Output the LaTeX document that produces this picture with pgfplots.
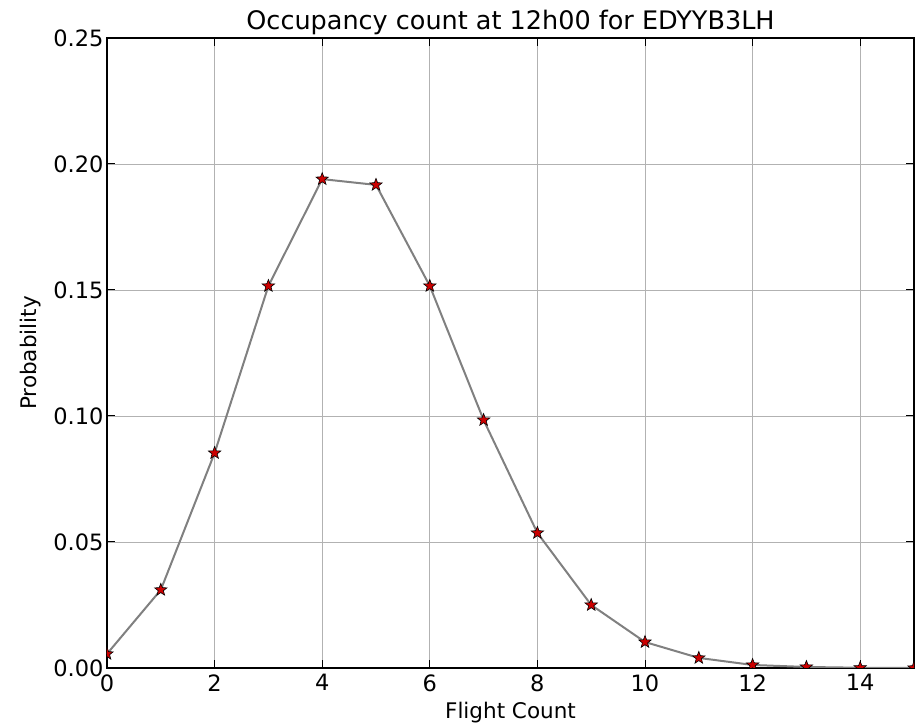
\documentclass[border=0pt]{standalone}
\usepackage{pgfplots}
\pgfplotsset{compat=1.18}
\usepackage{fontspec}
\setmainfont{DejaVu Sans}
\pgfdeclareplotmark{fstar}{%
  \pgfpathmoveto{\pgfqpointpolar{90}{\pgfplotmarksize}}%
  \pgfpathlineto{\pgfqpointpolar{126}{0.42\pgfplotmarksize}}%
  \pgfpathlineto{\pgfqpointpolar{162}{\pgfplotmarksize}}%
  \pgfpathlineto{\pgfqpointpolar{198}{0.42\pgfplotmarksize}}%
  \pgfpathlineto{\pgfqpointpolar{234}{\pgfplotmarksize}}%
  \pgfpathlineto{\pgfqpointpolar{270}{0.42\pgfplotmarksize}}%
  \pgfpathlineto{\pgfqpointpolar{306}{\pgfplotmarksize}}%
  \pgfpathlineto{\pgfqpointpolar{342}{0.42\pgfplotmarksize}}%
  \pgfpathlineto{\pgfqpointpolar{18}{\pgfplotmarksize}}%
  \pgfpathlineto{\pgfqpointpolar{54}{0.42\pgfplotmarksize}}%
  \pgfpathclose
  \pgfusepathqfillstroke
}
\begin{document}
\begin{tikzpicture}
\begin{axis}[
  name=ax,
  scale only axis,
  width=807pt, height=630pt,
  xmin=0, xmax=15, ymin=0, ymax=0.25,
  xtick={0,2,...,14},
  ytick={0,0.05,0.10,0.15,0.20,0.25},
  yticklabel style={/pgf/number format/.cd,fixed,fixed zerofill,precision=2},
  /pgf/number format/assume math mode=true,
  tick align=inside,
  tick pos=both,
  major tick length=8pt,
  axis line style={line width=1.2pt},
  tick style={black,line width=1pt},
  grid=major,
  grid style={gray!60,line width=0.9pt},
  tick label style={font=\fontsize{22.5}{26}\selectfont},
  xticklabel style={yshift=-3pt},
  label style={font=\fontsize{21.5}{26}\selectfont},
  title style={font=\fontsize{25.5}{30}\selectfont, yshift=-6pt},
  title={Occupancy count at 12h00 for EDYYB3LH},
  xlabel={Flight Count},
  ylabel={Probability},
  xlabel style={yshift=-4pt},
  ylabel style={yshift=6pt},
  clip=true,
  clip marker paths=true,
]
\addplot[color=gray, line width=2pt, mark=fstar, mark size=6.5pt,
  mark options={fill=red!80!black, draw=black, line width=0.6pt}]
coordinates {
(0,0.0056) (1,0.0310) (2,0.0853) (3,0.1516) (4,0.1940) (5,0.1917)
(6,0.1516) (7,0.0984) (8,0.0536) (9,0.0250) (10,0.0103) (11,0.0040)
(12,0.0012) (13,0.0004) (14,0.0001) (15,0.00003)
};
\end{axis}
\pgfresetboundingbox
\path[use as bounding box] ([xshift=-107pt,yshift=-58pt]ax.south west) rectangle ([xshift=2pt,yshift=38pt]ax.north east);
\end{tikzpicture}
\end{document}
